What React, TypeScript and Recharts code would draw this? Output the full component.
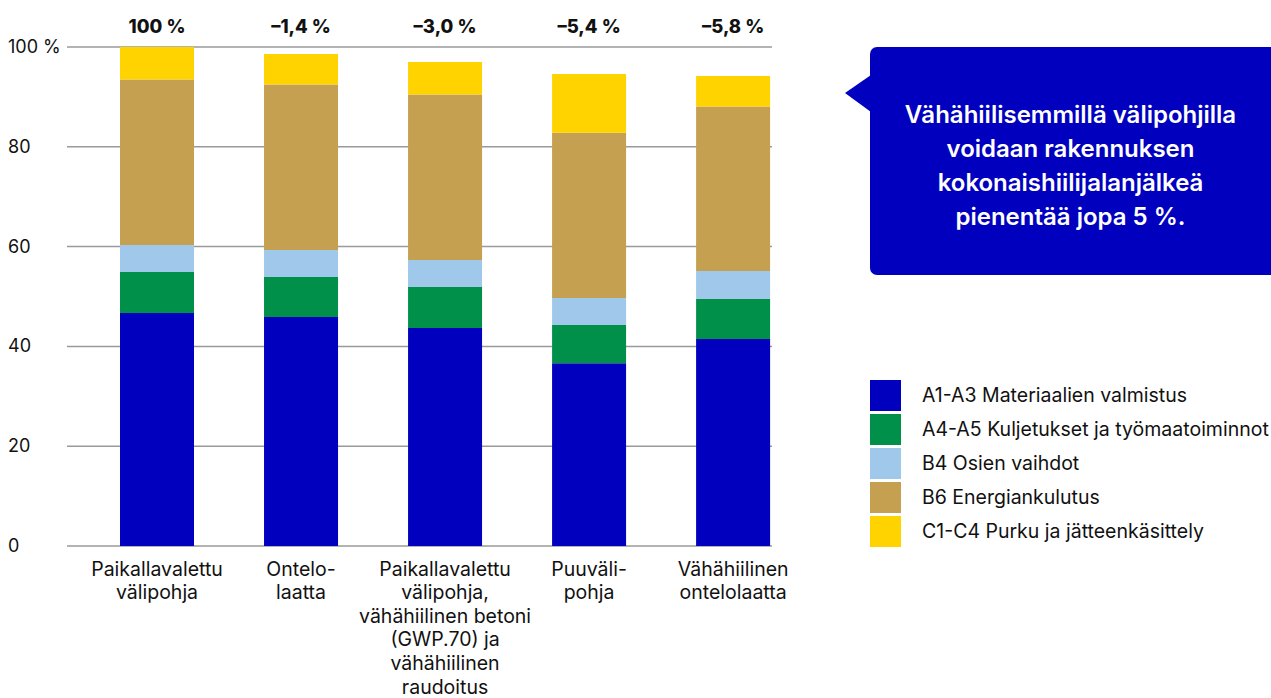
import React from "react";
import { BarChart, Bar, XAxis, YAxis, CartesianGrid, LabelList } from "recharts";

document.body.style.margin = "0";

/* ------------------------------------------------------------------ */
/* Data                                                                 */
/* ------------------------------------------------------------------ */

const categories = [
  ["Paikallavalettu", "välipohja"],
  ["Ontelo-", "laatta"],
  ["Paikallavalettu", "välipohja,", "vähähiilinen betoni", "(GWP.70) ja", "vähähiilinen", "raudoitus"],
  ["Puuväli-", "pohja"],
  ["Vähähiilinen", "ontelolaatta"],
];
const changeLabels = ["100 %", "–1,4 %", "–3,0 %", "–5,4 %", "–5,8 %"];

const a1a3 = [46.7, 45.9, 43.7, 36.6, 41.5];
const a4a5 = [8.2, 8.0, 8.2, 7.7, 8.0];
const b4 = [5.4, 5.4, 5.4, 5.4, 5.6];
const b6 = [33.2, 33.2, 33.2, 33.1, 33.0];
const c1c4 = [6.5, 6.1, 6.5, 11.8, 6.1];

const yTicks = [0, 20, 40, 60, 80, 100];

const series = [
  { key: "a1a3", name: "A1-A3 Materiaalien valmistus", color: "#0000BE" },
  { key: "a4a5", name: "A4-A5 Kuljetukset ja työmaatoiminnot", color: "#00904A" },
  { key: "b4", name: "B4 Osien vaihdot", color: "#9FC8EA" },
  { key: "b6", name: "B6 Energiankulutus", color: "#C4A050" },
  { key: "c1c4", name: "C1-C4 Purku ja jätteenkäsittely", color: "#FFD300" },
];

const chartData = categories.map((_, i) => ({
  pos: i,
  a1a3: a1a3[i],
  a4a5: a4a5[i],
  b4: b4[i],
  b6: b6[i],
  c1c4: c1c4[i],
  change: changeLabels[i],
}));

/* ------------------------------------------------------------------ */
/* Ticks, labels, legend                                                */
/* ------------------------------------------------------------------ */

const FONT = "Inter, 'Noto Sans', sans-serif";

function YTick({ y, payload }: any) {
  const v = payload.value;
  return (
    <text x={8} y={y} dy={6} textAnchor="start" fontFamily={FONT} fontSize={18} fill="#111">
      {v === 100 ? "100 %" : v}
    </text>
  );
}

// multi-line category labels
function XTick({ x, y, payload }: any) {
  const lines = categories[payload.value] ?? [];
  return (
    <text x={x} y={y} textAnchor="middle" fontFamily={FONT} fontSize={19.5} fill="#111">
      {lines.map((l, i) => (
        <tspan key={i} x={x} dy={i === 0 ? 21.5 : 23.6}>
          {l}
        </tspan>
      ))}
    </text>
  );
}

function TopLabel({ x, width, value }: any) {
  return (
    <text x={x + width / 2} y={33} textAnchor="middle" fontFamily={FONT} fontWeight={800} fontSize={18.5} fill="#111">
      {value}
    </text>
  );
}

function LegendBox() {
  return (
    <div style={{ position: "absolute", left: 870, top: 378, fontFamily: FONT, fontSize: 19.5, color: "#111" }}>
      {series.map((s) => (
        <div key={s.key} style={{ display: "flex", alignItems: "center", height: 34 }}>
          <div style={{ width: 31, height: 31, background: s.color, marginRight: 21 }} />
          <span style={{ whiteSpace: "nowrap" }}>{s.name}</span>
        </div>
      ))}
    </div>
  );
}

/* ------------------------------------------------------------------ */
/* Chart                                                                */
/* ------------------------------------------------------------------ */

export default function App() {
  return (
    <div style={{ position: "relative", width: 1271, height: 698, overflow: "hidden", background: "#fff" }}>
      <BarChart
        width={1271}
        height={698}
        data={chartData}
        margin={{ top: 47, right: 499, left: 7, bottom: 100 }}
      >
        <CartesianGrid vertical={false} stroke="#9a9a9a" strokeWidth={1.5} />
        <XAxis
          dataKey="pos"
          type="number"
          domain={[-0.625, 4.27]}
          ticks={[0, 1, 2, 3, 4]}
          allowDataOverflow
          axisLine={false}
          tickLine={false}
          tick={<XTick />}
          height={52}
          interval={0}
        />
        <YAxis
          domain={[0, 100]}
          ticks={yTicks}
          axisLine={false}
          tickLine={false}
          width={60}
          tick={<YTick />}
        />
        {series.map((s, i) => (
          <Bar
            key={s.key}
            dataKey={s.key}
            name={s.name}
            stackId="a"
            fill={s.color}
            barSize={74}
            isAnimationActive={false}
          >
            {i === series.length - 1 && <LabelList dataKey="change" content={<TopLabel />} />}
          </Bar>
        ))}
      </BarChart>

      <LegendBox />

      {/* callout */}
      <svg style={{ position: "absolute", left: 0, top: 0 }} width={1271} height={698} pointerEvents="none">
        <rect x={870} y={47} width={420} height={228} rx={7} fill="#0000BE" />
        <polygon points="845,93 871,75 871,112" fill="#0000BE" />
      </svg>
      <div
        style={{
          position: "absolute",
          left: 870,
          top: 98,
          width: 401,
          textAlign: "center",
          color: "#fff",
          fontFamily: FONT,
          fontWeight: 600,
          fontSize: 24,
          lineHeight: "34px",
        }}
      >
        Vähähiilisemmillä välipohjilla
        <br />
        voidaan rakennuksen
        <br />
        kokonaishiilijalanjälkeä
        <br />
        pienentää jopa 5 %.
      </div>
    </div>
  );
}
